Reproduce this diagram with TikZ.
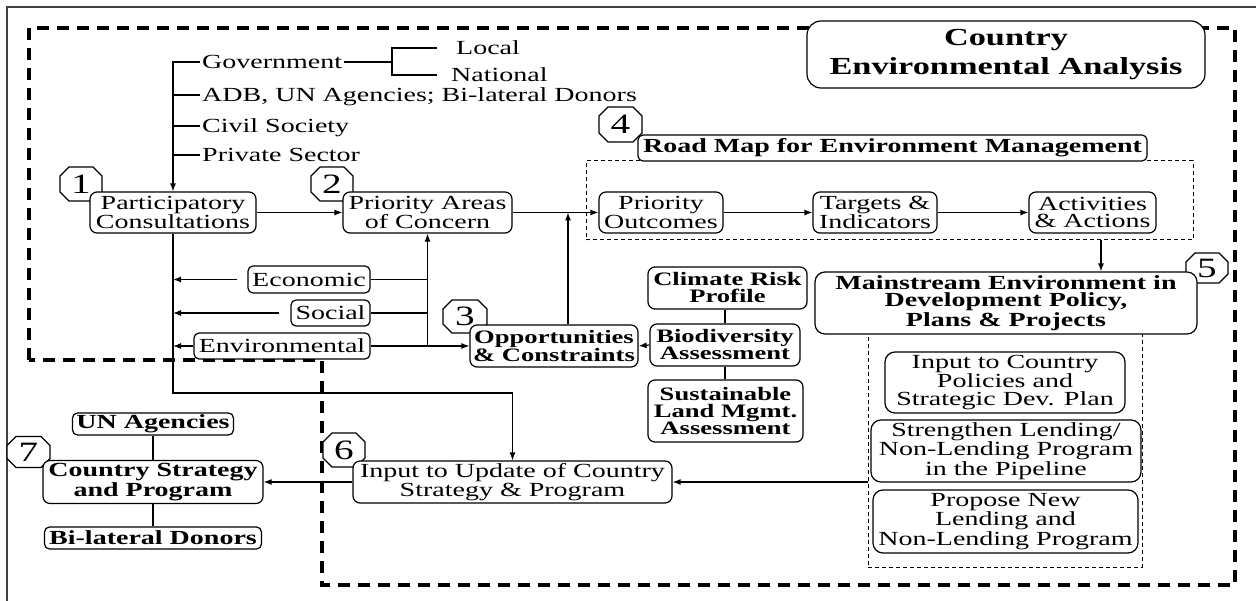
\documentclass[tikz,border=0pt]{standalone}
\usepackage{fontspec}
\setmainfont{Liberation Serif}[FakeStretch=1.4]
\usetikzlibrary{arrows.meta,calc}

% step number: octagon outline with the digit node on top
% #1 name, #2 x, #3 y, #4 width, #5 height, #6 digit
\newcommand\octnum[6]{%
  \draw[line width=1.2pt, fill=white]
    (#2-#4/2, #3-#5/2+9) -- (#2-#4/2+9, #3-#5/2) -- (#2+#4/2-9, #3-#5/2) --
    (#2+#4/2, #3-#5/2+9) -- (#2+#4/2, #3+#5/2-9) -- (#2+#4/2-9, #3+#5/2) --
    (#2-#4/2+9, #3+#5/2) -- (#2-#4/2, #3+#5/2-9) -- cycle;
  \node[numtxt] (#1) at (#2,#3) {#6};}

\begin{document}
\begin{tikzpicture}[x=1pt,y=-1pt,
  base/.style={font=\fontsize{20}{17.5}\selectfont},
  box/.style={draw, line width=1.2pt, rounded corners=7pt, fill=white,
    align=center, inner sep=0pt, base},
  bbox/.style={box, font=\bfseries\fontsize{20}{17.5}\selectfont},
  sbox/.style={box, font=\bfseries\fontsize{19}{17}\selectfont},
  wh/.style 2 args={minimum width=#1pt, minimum height=#2pt},
  lbl/.style={base, inner sep=2pt, anchor=west, text height=13pt, text depth=0pt},
  numtxt/.style={inner sep=0pt, font=\fontsize{28}{28}\selectfont},
  ln/.style={line width=1.2pt},
  arr/.style={ln, -{Latex[length=8pt,width=6pt]}},
  bigdash/.style={line width=3.4pt, dash pattern=on 12pt off 8pt},
  thindash/.style={draw, line width=1pt, dash pattern=on 4pt off 3pt},
]
\useasboundingbox (0,0) rectangle (1256,601);

% page frame and analysis boundary
\draw[line width=1.2pt, black!75] (7,601) -- (7,7) -- (1256,7);
\draw[bigdash] (29,360) -- (29,28) -- (1235,28) -- (1235,585) -- (322,585) -- (322,360) -- cycle;

% dashed groupings
\node[thindash, wh={607}{79}] (rm) at (889.5,200.5) {};
\node[thindash, wh={274}{233}] (pipe) at (1005,450.5) {};

% step numbers
\octnum{n1}{81}{184}{42}{34}{1}
\octnum{n2}{332}{184}{42}{34}{2}
\octnum{n3}{465}{316.5}{44}{33}{3}
\octnum{n4}{620.5}{124.5}{43}{35}{4}
\octnum{n5}{1207}{268}{42}{30}{5}
\octnum{n6}{344}{450}{42}{34}{6}
\octnum{n7}{28.5}{452}{43}{31}{7}

% title
\node[bbox, wh={398}{67}, rounded corners=14pt,
  font=\bfseries\fontsize{24.5}{29}\selectfont] (cea) at (1006,54.5)
  {Country\\Environmental Analysis};

% stakeholders
\node[lbl] (gov) at (200,62) {Government};
\node[lbl] (adb) at (200,95) {ADB, UN Agencies; Bi-lateral Donors};
\node[lbl] (civ) at (200,126) {Civil Society};
\node[lbl] (pri) at (200,155) {Private Sector};
\node[lbl] (loc) at (454,48) {Local};
\node[lbl] (nat) at (449,75) {National};
\coordinate (brk) at (392,62);

% main flow boxes
\node[box, wh={166}{41}] (part) at (173,212.5) {Participatory\\Consultations};
\node[box, wh={169}{41}] (pac) at (427.5,212.5) {Priority Areas\\of Concern};
\node[box, wh={124}{41}] (po) at (661,212.5) {Priority\\Outcomes};
\node[box, wh={124}{41}] (ti) at (875,212.5) {Targets \&\\Indicators};
\node[box, wh={127}{41}] (aa) at (1092.5,212.5) {Activities\\\& Actions};
\node[bbox, wh={509}{26}, rounded corners=5pt] (rmt) at (892.5,148) {Road Map for Environment Management};

\node[box, wh={122}{27}, rounded corners=5pt] (eco) at (309,279.5) {Economic};
\node[box, wh={79}{26}, rounded corners=5pt] (soc) at (330.5,313) {Social};
\node[box, wh={176}{26}, rounded corners=5pt] (env) at (282,346) {Environmental};
\node[sbox, wh={168}{42}] (opp) at (554,346) {Opportunities\\\& Constraints};

\node[sbox, wh={159}{42}] (crp) at (727.5,288) {Climate Risk\\Profile};
\node[sbox, wh={150}{42}] (bio) at (725,345) {Biodiversity\\Assessment};
\node[sbox, wh={155}{62}] (sla) at (725.5,411) {Sustainable\\Land Mgmt.\\Assessment};

\node[bbox, wh={382}{62}, rounded corners=10pt] (main) at (1006,303)
  {Mainstream Environment in\\Development Policy,\\Plans \& Projects};
\node[box, wh={240}{61}, rounded corners=10pt] (icp) at (1005,382.5)
  {Input to Country\\Policies and\\Strategic Dev. Plan};
\node[box, wh={270}{62}, rounded corners=10pt] (slp) at (1006,451)
  {Strengthen Lending/\\Non-Lending Program\\in the Pipeline};
\node[box, wh={265}{63}, rounded corners=10pt] (pnl) at (1005.5,521.5)
  {Propose New\\Lending and\\Non-Lending Program};

\node[box, wh={319}{42}] (upd) at (512.5,482) {Input to Update of Country\\Strategy \& Program};
\node[bbox, wh={220}{43}] (csp) at (153,482) {Country Strategy\\and Program};
\node[bbox, wh={161}{22}, rounded corners=5pt] (una) at (153,424) {UN Agencies};
\node[bbox, wh={217}{22}, rounded corners=5pt] (bld) at (153,538) {Bi-lateral Donors};

% connectors
\draw[arr] (gov.west) -- (gov.west -| part.north) -- (part.north);
\foreach \s in {adb,civ,pri} \draw[ln] (\s.west) -- (\s.west -| part.north);
\draw[ln] (gov.east) -- (brk);
\draw[ln] ([xshift=-17pt]loc.west) -- (brk |- loc.west) -- (brk |- nat.west) -- ([xshift=-12pt]nat.west);

\draw[arr] (part) -- (pac);
\coordinate (turn) at (175,393);
\draw[arr] (part.south) -- (part.south |- turn) -| (upd.north);
\draw[arr, shorten <=10pt] (eco.west) -- (eco.west -| part.south);
\draw[arr, shorten <=11pt] (soc.west) -- (soc.west -| part.south);
\draw[arr] (env.west) -- (env.west -| part.south);
\draw[ln] (eco.east) -- (eco.east -| pac.south);
\draw[ln] (soc.east) -- (soc.east -| pac.south);
\draw[arr] (env.east -| pac.south) -- (pac.south);
\draw[arr] (env.east) -- (opp.west);
\draw[arr] ([xshift=14pt]opp.north) -- ([xshift=14pt]opp.north |- pac.east);
\draw[arr] (pac) -- (po);
\draw[arr] (po) -- (ti);
\draw[arr] (ti) -- (aa);
\draw[arr] ([xshift=8.5pt]aa.south |- rm.south) -- ([xshift=8.5pt]aa.south |- main.north);
\draw[arr] (pipe.west |- upd.east) -- (upd.east);
\draw[arr] (upd) -- (csp);
\draw[ln] (una) -- (csp);
\draw[ln] (csp) -- (bld);
\draw[ln] (bio.north) -- (bio.north |- crp.south);
\draw[arr] (bio.west) -- (opp.east);
\draw[ln] (bio.south) -- (bio.south |- sla.north);
\end{tikzpicture}
\end{document}
